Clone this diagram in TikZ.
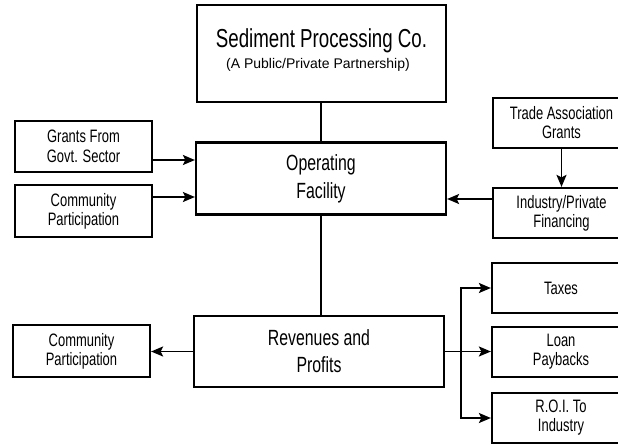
\documentclass[tikz,border=0pt]{standalone}
\usepackage{fontspec}
\setmainfont{Liberation Sans}[FakeStretch=0.72]
\newfontfamily\subfont{Liberation Sans}
\usetikzlibrary{arrows.meta}
\begin{document}
\begin{tikzpicture}[x=1pt,y=-1pt,
  boxed/.style={draw,line width=2.2pt,inner sep=0pt,align=center},
  smalltxt/.style={font=\fontsize{18}{19}\selectfont},
  midtxt/.style={font=\fontsize{22}{28}\selectfont},
  arr/.style={line width=1.8pt,-{Stealth[length=12pt,width=10pt,inset=2.5pt]}},
  ln/.style={line width=1.6pt}]
\useasboundingbox (0,0) rectangle (618,445);
% top box
\node[boxed,minimum width=249pt,minimum height=97pt] (top) at (321.5,53.5) {};
\node[font=\fontsize{26}{28}\selectfont,anchor=base,inner sep=0pt] (title) at (321.5,47) {Sediment Processing Co.};
\node[font=\subfont\fontsize{14}{16}\selectfont,anchor=base,inner sep=0pt] (sub) at (318,68) {(A Public/Private Partnership)};
% main boxes
\node[boxed,midtxt,minimum width=250pt,minimum height=72pt] (op) at (321,178.5) {Operating\\Facility};
\node[boxed,font=\fontsize{22}{27}\selectfont,minimum width=250pt,minimum height=71pt] (rev) at (319,351.5) {Revenues and\\Profits};
% left boxes
\node[boxed,font=\fontsize{18}{20}\selectfont,minimum width=137pt,minimum height=51pt] (grants) at (83.5,146.5) {Grants From\\Govt. Sector};
\node[boxed,smalltxt,minimum width=137pt,minimum height=52pt] (comm1) at (83.5,211) {Community\\Participation};
\node[boxed,smalltxt,minimum width=137pt,minimum height=52pt] (comm2) at (81.5,351) {Community\\Participation};
% right boxes
\node[boxed,smalltxt,minimum width=137pt,minimum height=50pt] (trade) at (561.5,123) {Trade Association\\Grants};
\node[boxed,smalltxt,minimum width=137pt,minimum height=50pt] (ind) at (561.5,213) {Industry/Private\\Financing};
\node[boxed,smalltxt,minimum width=138pt,minimum height=50pt] (taxes) at (561,288) {Taxes};
\node[boxed,smalltxt,minimum width=138pt,minimum height=50pt] (loan) at (561,352) {Loan\\Paybacks};
\node[boxed,smalltxt,minimum width=138pt,minimum height=50pt] (roi) at (561,418) {R.O.I. To\\Industry};
% connectors
\draw[ln] (op.north |- top.south) -- (op.north);
\draw[ln] (op.south) -- (op.south |- rev.north);
\draw[arr] (grants.east |- 0,160) -- (op.west |- 0,160);
\draw[arr] (comm1.east |- 0,197) -- (op.west |- 0,197);
\draw[arr] (ind.west |- 0,199) -- (op.east |- 0,199);
\draw[arr] (trade.south) -- (ind.north);
\draw[arr] (rev.west) -- (comm2.east |- rev.west);
\coordinate (br) at (461,351.5);
\draw[ln] (rev.east) -- (br);
\draw[arr] (br) |- (taxes.west);
\draw[arr] (br) -- (loan.west |- br);
\draw[arr] (br) |- (roi.west);
\end{tikzpicture}
\end{document}
